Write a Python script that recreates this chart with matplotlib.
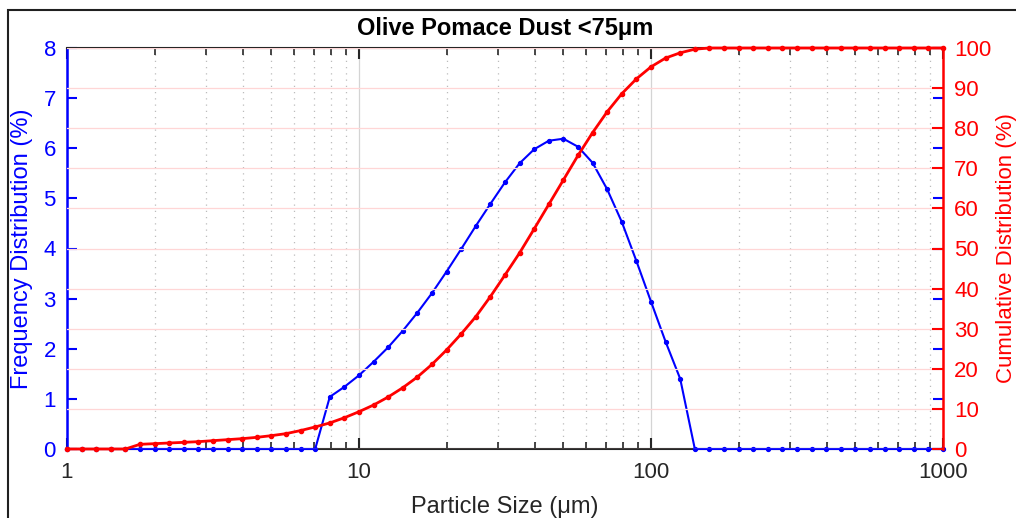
import numpy as np
import matplotlib
matplotlib.use("Agg")
import matplotlib.pyplot as plt
from matplotlib.ticker import LogLocator, NullFormatter
from matplotlib.patches import Rectangle

plt.rcParams['font.family'] = ['Liberation Sans', 'DejaVu Sans']

# particle size classes, 20 per decade from 1 to 1000 um
size_um = [1.0, 1.122, 1.259, 1.413, 1.585, 1.778, 1.995, 2.239, 2.512, 2.818,
           3.162, 3.548, 3.981, 4.467, 5.012, 5.623, 6.310, 7.079, 7.943, 8.913,
           10.0, 11.22, 12.59, 14.13, 15.85, 17.78, 19.95, 22.39, 25.12, 28.18,
           31.62, 35.48, 39.81, 44.67, 50.12, 56.23, 63.10, 70.79, 79.43, 89.13,
           100.0, 112.2, 125.9, 141.3, 158.5, 177.8, 199.5, 223.9, 251.2, 281.8,
           316.2, 354.8, 398.1, 446.7, 501.2, 562.3, 631.0, 707.9, 794.3, 891.3,
           1000.0]

# frequency distribution (%)
freq = [0, 0, 0, 0, 0, 0, 0, 0, 0, 0,
        0, 0, 0, 0, 0, 0, 0, 0, 1.04, 1.24,
        1.47, 1.74, 2.03, 2.36, 2.72, 3.11, 3.54, 3.99, 4.45, 4.89,
        5.32, 5.70, 5.98, 6.15, 6.19, 6.03, 5.71, 5.18, 4.53, 3.75,
        2.94, 2.14, 1.40, 0, 0, 0, 0, 0, 0, 0,
        0, 0, 0, 0, 0, 0, 0, 0, 0, 0,
        0]

# cumulative distribution (%)
cumul = [0, 0, 0, 0, 0, 1.17, 1.33, 1.50, 1.66, 1.83,
         2.08, 2.33, 2.58, 2.91, 3.33, 3.83, 4.6, 5.5, 6.5, 7.8,
         9.3, 10.97, 12.97, 15.29, 17.96, 21.1, 24.7, 28.7, 33.0, 38.0,
         43.4, 48.9, 54.9, 61.0, 67.1, 73.2, 78.9, 84.1, 88.6, 92.3,
         95.3, 97.5, 98.8, 99.7, 100, 100, 100, 100, 100, 100,
         100, 100, 100, 100, 100, 100, 100, 100, 100, 100,
         100]

BLUE = '#0000ff'
RED = '#ff0000'
DARK = '#262626'

fig = plt.figure(figsize=(10.16, 5.18), dpi=100)
ax = fig.add_axes([67/1016, 1-449/518, (943-67)/1016, (449-48)/518])
ax2 = ax.twinx()

# grid: vertical from x axis, horizontal pink from right axis
ax.set_xscale('log')
ax.set_xlim(1, 1000)
ax.set_ylim(0, 8)
ax.xaxis.set_minor_locator(LogLocator(base=10, subs=np.arange(2, 10), numticks=10))
ax.xaxis.set_minor_formatter(NullFormatter())
ax.set_xticks([1, 10, 100, 1000])
ax.set_xticklabels(['1', '10', '100', '1000'])
ax.grid(True, axis='x', which='major', color='#d4d4d4', lw=0.9, ls='-')
ax.grid(True, axis='x', which='minor', color='#bcbcbc', lw=0.9, ls=(0, (1, 4)))
ax.set_axisbelow(True)

ax2.set_ylim(0, 100)
ax2.set_yticks(np.arange(0, 101, 10))
ax2.grid(True, axis='y', color='#ffd6d6', lw=0.9)
ax2.set_axisbelow(True)

ax.plot(size_um, freq, color=BLUE, lw=1.5, marker='o', ms=2.8, clip_on=False, zorder=3)
ax2.plot(size_um, cumul, color=RED, lw=2.0, marker='o', ms=3.0, clip_on=False, zorder=3)

# ticks
ax.set_yticks(np.arange(0, 9, 1))
ax.tick_params(axis='y', colors=BLUE, direction='in', length=7, width=1.5,
               labelsize=16, left=True, right=True, pad=8)
ax.tick_params(axis='x', which='major', colors=DARK, direction='in', length=8,
               width=1.5, top=True, labelsize=16, pad=9)
ax.tick_params(axis='x', which='minor', colors=DARK, direction='in', length=5,
               width=1.2, top=True)
ax2.tick_params(axis='y', colors=RED, direction='in', length=8, width=1.5,
                labelsize=16, pad=8)

for s in ['top', 'bottom']:
    ax.spines[s].set_color(DARK)
    ax.spines[s].set_linewidth(1.5)
    ax2.spines[s].set_visible(False)
ax.spines['left'].set_color(BLUE)
ax.spines['left'].set_linewidth(1.8)
ax2.spines['left'].set_visible(False)
ax.spines['right'].set_visible(False)
ax2.spines['right'].set_color(RED)
ax2.spines['right'].set_linewidth(1.8)

ax.set_xlabel('Particle Size (μm)', fontsize=17, color=DARK)
ax.xaxis.set_label_coords(0.5, -0.118)
ax.set_ylabel('Frequency Distribution (%)', fontsize=17, color=BLUE)
ax.yaxis.set_label_coords(-0.039, 0.5)
ax2.set_ylabel('Cumulative Distribution (%)', fontsize=16, color=RED, rotation=90)
ax2.yaxis.set_label_coords(1.06, 0.5)
ax.set_title('Olive Pomace Dust <75μm', fontsize=17, fontweight='bold', pad=9)

# outer frame of the figure window
fig.add_artist(Rectangle((8/1016, -0.1), 1.2, 1.1 - 10/518, transform=fig.transFigure,
                         fill=False, ec='#202020', lw=1.5))

fig.savefig('out.png', dpi=100)
